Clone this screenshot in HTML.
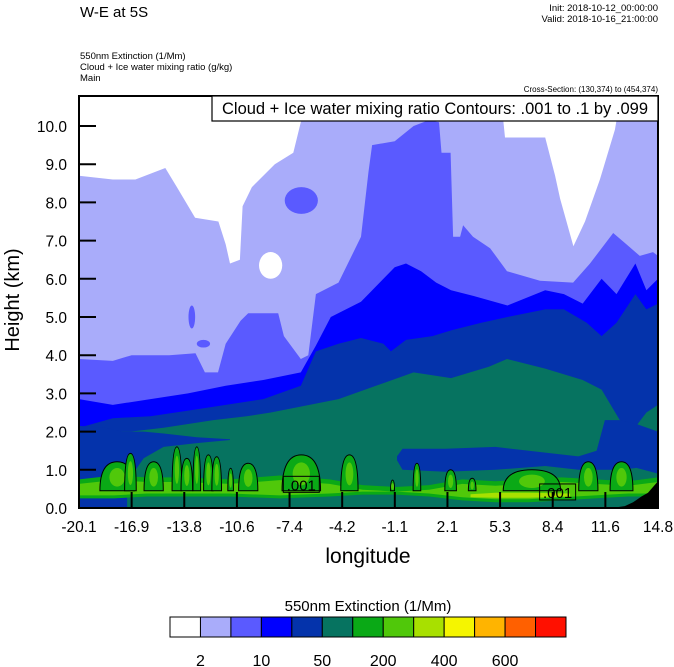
<!DOCTYPE html>
<html><head><meta charset="utf-8"><title>W-E at 5S</title>
<style>
body{margin:0;background:#fff;}
svg{display:block;font-family:"Liberation Sans",Arial,sans-serif;}
</style></head>
<body>
<svg id="chart" width="674" height="667" viewBox="0 0 674 667" xmlns="http://www.w3.org/2000/svg">
<text x="80" y="17" font-size="15">W-E at 5S</text>
<text x="658" y="11" font-size="9.5" text-anchor="end">Init: 2018-10-12_00:00:00</text>
<text x="658" y="22" font-size="9.5" text-anchor="end">Valid: 2018-10-16_21:00:00</text>
<text x="80" y="59" font-size="9.5">550nm Extinction   (1/Mm)</text>
<text x="80" y="70" font-size="9.5">Cloud + Ice water mixing ratio   (g/kg)</text>
<text x="80" y="81" font-size="9.5">Main</text>
<text x="658" y="92" font-size="8" text-anchor="end">Cross-Section: (130,374) to (454,374)</text>
<defs><clipPath id="pc"><rect x="79" y="96" width="579" height="412"/></clipPath></defs>
<g id="plot" clip-path="url(#pc)"></g>
<g id="axes"></g>
<rect x="212" y="96" width="446" height="25" fill="#fff" stroke="#000" stroke-width="1.2"/>
<text x="435" y="114" font-size="16.5" text-anchor="middle">Cloud + Ice water mixing ratio Contours: .001 to .1 by .099</text>
<text x="368" y="563" font-size="21" text-anchor="middle">longitude</text>
<text transform="translate(19,300) rotate(-90)" font-size="20" text-anchor="middle">Height (km)</text>
<text x="368" y="611" font-size="15" text-anchor="middle">550nm Extinction  (1/Mm)</text>
<g id="cbar"></g>
</svg>
<script>
// ---- data ----
const xTickLabels = ["-20.1","-16.9","-13.8","-10.6","-7.4","-4.2","-1.1","2.1","5.3","8.4","11.6","14.8"];
const yTicks = [0,1,2,3,4,5,6,7,8,9,10];
const levelColors = ["#ffffff","#a9acfa","#5a5aff","#0000ff","#0433ab","#067360","#0aa916","#50c80a","#a8e000","#f5f500","#ffb400","#ff6000","#ff1000"];
const cbarLabels = ["2","10","50","200","400","600"];
// top boundaries (lon, km) of each filled level
const l1Lon = [-20.1,-18.06,-16.7,-14.9,-14.2,-13.1,-11.7,-11.26,-11.0,-10.4,-10.24,-9.68,-8.3,-7.18,-6.73,-5.8,5.3,5.58,8.0,8.6,8.9,9.7,10.4,11.3,12.2,12.6,14.8];
const l1Km  = [8.7,8.6,8.6,8.9,8.4,7.6,7.5,6.9,6.4,6.5,7.9,8.4,9.0,9.3,10.1,10.9,10.9,9.7,9.7,8.7,8.1,6.85,7.5,8.6,9.9,10.9,10.9];
const l2Lon = [-20.1,-18.06,-16.93,-14.66,-13.08,-12.51,-11.72,-11.26,-10.36,-9.9,-8.09,-7.75,-6.73,-6.28,-5.82,-4.46,-3.1,-2.65,-2.43,-1.07,0.07,0.97,1.6,1.75,2.3,2.45,2.87,3.05,3.65,4.68,5.7,7.69,9.68,10.7,12.1,12.9,13.7,14.5,14.8];
const l2Km  = [3.9,3.85,4.0,4.0,4.05,3.55,3.55,4.3,4.9,5.1,5.1,4.5,3.9,4.0,5.6,5.9,7.1,8.8,9.5,9.6,10.0,10.15,10.1,9.3,9.3,7.1,7.1,7.4,7.1,6.8,6.2,5.95,5.9,6.4,7.2,6.9,6.6,6.7,6.6];
const l3Lon = [-20.1,-18.06,-15.79,-13.53,-11.26,-8.99,-6.73,-5.82,-4.92,-3.1,-1.07,-0.39,0.52,1.43,2.33,3.69,5.73,8.0,9.13,10.26,11.4,12.3,13.44,14.1,14.8];
const l3Km  = [2.85,2.7,2.85,3.0,3.2,3.35,3.55,4.25,5.0,5.4,6.3,6.4,6.2,5.9,5.7,5.55,5.3,5.7,5.6,5.35,6.0,5.6,6.4,5.7,6.0];
const l4Lon = [-20.1,-18.06,-15.79,-13.53,-11.26,-8.99,-6.73,-5.82,-4.46,-3.1,-1.75,-1.3,-0.39,1.2,2.33,4.15,5.73,8.0,9.13,10.5,11.4,12.3,13.44,14.1,14.8];
const l4Km  = [2.1,2.35,2.4,2.55,2.7,2.85,3.2,4.1,4.3,4.45,4.3,4.1,4.4,4.5,4.65,4.85,5.0,5.2,5.2,4.85,4.5,4.85,5.6,5.2,5.35];
const l5Lon = [-20.1,-17,-15,-12,-10,-8.54,-4.46,-2.2,0.07,2.33,4.6,5.7,8.0,10.26,11.4,12.5,13.4,14.1,14.8];
const l5Km  = [2.0,2.0,2.1,2.3,2.4,2.5,2.85,3.2,3.55,3.4,3.7,3.9,3.65,3.35,3.1,2.3,2.1,2.5,2.7];
// low-level pockets and bands (lon, bottom km, top km)
const pocketLLon = [-20.1,-18.5,-17.5,-16.2,-15,-13,-11];
const pocketLBot = [0.3,0.3,0.5,1.3,1.6,1.7,1.78];
const pocketLTop = [2.15,2.1,2.0,2.0,1.95,1.85,1.8];
const pocketBLon = [-20.1,-18.5,-17.2];
const pocketBBot = [0.0,0.0,0.0];
const pocketBTop = [0.3,0.3,0.3];
const pocketRLon = [-0.93,-0.6,2,5,8,10,11.1,11.6,12.5,13.5,14.8];
const pocketRBot = [1.25,1.0,0.95,1.0,1.1,1.0,1.0,1.0,1.0,1.05,0.9];
const pocketRTop = [1.35,1.55,1.55,1.6,1.45,1.35,1.5,2.3,2.3,2.2,2.0];
const greenLon = [-20.1,-18,-16,-14,-11,-8,-5,-3,-1,1,3,5,7,9,11,13,14.8];
const greenBot = [0.25,0.25,0.3,0.3,0.3,0.25,0.3,0.35,0.35,0.3,0.2,0.15,0.15,0.2,0.25,0.3,0.3];
const greenTop = [0.75,0.85,0.8,0.8,0.75,0.85,0.75,0.6,0.55,0.6,0.75,0.7,0.75,0.8,0.75,0.7,0.8];
const yellowLon = [3.5,5,7,9.5];
const yellowBot = [0.28,0.27,0.27,0.3];
const yellowTop = [0.36,0.4,0.4,0.38];
const terrainLon = [12.0,12.8,13.3,13.8,14.2,14.5,14.8];
const terrainKm = [0,0.05,0.15,0.3,0.4,0.55,0.7];
// convective cells: centre lon, top km, half width (lon)
const cellLon = [-17.8,-17.0,-15.6,-14.2,-13.6,-13.0,-12.3,-11.8,-10.96,-9.9,-6.7,-3.8,-1.2,0.27,2.3,3.6,7.2,10.6,12.6];
const cellTop = [1.21,1.43,1.21,1.6,1.3,1.6,1.39,1.34,1.04,1.17,1.39,1.39,0.73,1.17,1.0,0.78,1.0,1.21,1.21];
const cellHalf = [1.04,0.35,0.58,0.29,0.35,0.23,0.29,0.29,0.17,0.58,1.16,0.52,0.12,0.23,0.35,0.23,1.73,0.58,0.69];
const cellBase = 0.45;
// blobs: lon, km, radius lon, radius km, level index
const blobLon = [-6.7,-8.55,-13.3,-12.6];
const blobKm = [8.05,6.35,5.0,4.3];
const blobRLon = [1.0,0.7,0.2,0.4];
const blobRKm = [0.35,0.35,0.3,0.1];
const blobLevel = [2,0,2,2];
// contour labels: lon, km
const labelLon = [-6.7,8.75];
const labelKm = [0.62,0.42];

// ---- scales ----
const X0=79,X1=658,YB=508,PXKM=38.2,LON0=-20.1,LON1=14.8;
const sx = lon => X0 + (lon-LON0)/(LON1-LON0)*(X1-X0);
const sy = km => YB - km*PXKM;
const NS="http://www.w3.org/2000/svg";
const plot=document.getElementById('plot');
const axes=document.getElementById('axes');
function mk(tag,attrs,parent){const e=document.createElementNS(NS,tag);for(const k in attrs)e.setAttribute(k,attrs[k]);parent.appendChild(e);return e;}

const bg=mk('rect',{x:X0,y:96,width:X1-X0,height:412,fill:levelColors[0]},plot);



function below(lons,kms,color,name){
  let d='M'+sx(lons[0])+','+YB;
  for(let i=0;i<lons.length;i++) d+=' L'+sx(lons[i]).toFixed(1)+','+sy(kms[i]).toFixed(1);
  d+=' L'+sx(lons[lons.length-1])+','+YB+' Z';
  const p=mk('path',{d:d,fill:color},plot);
  
  
}
function band(lons,bots,tops,color,name){
  let d='';
  for(let i=0;i<lons.length;i++) d+=(i?' L':'M')+sx(lons[i]).toFixed(1)+','+sy(tops[i]).toFixed(1);
  for(let i=lons.length-1;i>=0;i--) d+=' L'+sx(lons[i]).toFixed(1)+','+sy(bots[i]).toFixed(1);
  d+=' Z';
  const p=mk('path',{d:d,fill:color},plot);
  
  
}
below(l1Lon,l1Km,levelColors[1],'level-2-fill');
below(l2Lon,l2Km,levelColors[2],'level-10-fill');
below(l3Lon,l3Km,levelColors[3],'level-20-fill');
below(l4Lon,l4Km,levelColors[4],'level-50-fill');
below(l5Lon,l5Km,levelColors[5],'level-100-fill');
for(let i=0;i<blobLon.length;i++){
  const e=mk('ellipse',{cx:sx(blobLon[i]),cy:sy(blobKm[i]),rx:blobRLon[i]/(LON1-LON0)*(X1-X0),ry:blobRKm[i]*PXKM,fill:levelColors[blobLevel[i]]},plot);
  
  
}
band(pocketLLon,pocketLBot,pocketLTop,levelColors[4],'left-low-pocket');
band(pocketBLon,pocketBBot,pocketBTop,levelColors[4],'left-surface-pocket');
band(pocketRLon,pocketRBot,pocketRTop,levelColors[4],'right-low-pocket');
band(greenLon,greenBot,greenTop,levelColors[6],'boundary-layer-green');
band(greenLon,greenBot.map(v=>v+0.08),greenTop.map(v=>v-0.12),levelColors[7],'boundary-layer-lightgreen');
band(yellowLon,yellowBot,yellowTop,levelColors[8],'boundary-layer-yellowgreen');

for(let i=0;i<cellLon.length;i++){
  const l=sx(cellLon[i]-cellHalf[i]), r=sx(cellLon[i]+cellHalf[i]), c=sx(cellLon[i]);
  const t=sy(cellTop[i]), b=sy(cellBase);
  const d='M'+l+','+b+' Q'+l+','+t+' '+c+','+t+' Q'+r+','+t+' '+r+','+b+' Z';
  const p=mk('path',{d:d,fill:levelColors[6],stroke:'#000','stroke-width':1},plot);
  
  
  const w=(r-l)*0.45;
  const inner=mk('ellipse',{cx:c,cy:(t+b)/2+1,rx:Math.max(1.5,w/2),ry:(b-t)*0.32,fill:levelColors[7]},plot);
  
  
}
{
  let d='M'+sx(terrainLon[0])+','+YB;
  for(let i=0;i<terrainLon.length;i++) d+=' L'+sx(terrainLon[i]).toFixed(1)+','+sy(terrainKm[i]).toFixed(1);
  d+=' L'+X1+','+YB+' Z';
  const p=mk('path',{d:d,fill:'#000'},plot);
  
  
}
for(let i=0;i<labelLon.length;i++){
  const cx=sx(labelLon[i]), cy=sy(labelKm[i]);
  const r=mk('rect',{x:cx-18,y:cy-8,width:36,height:16,fill:'none',stroke:'#000','stroke-width':1},plot);
  
  
  const t=mk('text',{x:cx,y:cy+6,'font-size':15,'text-anchor':'middle'},plot);
  t.textContent='.001';
  
  
}
// axes
const frame=mk('rect',{x:X0,y:96,width:X1-X0,height:412,fill:'none',stroke:'#000','stroke-width':2},axes);


for(let i=0;i<xTickLabels.length;i++){
  const x=X0+i*(X1-X0)/(xTickLabels.length-1);
  const tk=mk('line',{x1:x,y1:YB,x2:x,y2:YB-16,stroke:'#000','stroke-width':2},axes);
  
  
  const t=mk('text',{x:x,y:532,'font-size':15.5,'text-anchor':'middle'},axes);
  t.textContent=xTickLabels[i];
  
  
}
for(const v of yTicks){
  const y=sy(v);
  const tk=mk('line',{x1:X0,y1:y,x2:X0+17,y2:y,stroke:'#000','stroke-width':2},axes);
  
  
  const t=mk('text',{x:67,y:y+6,'font-size':15.5,'text-anchor':'end'},axes);
  t.textContent=v.toFixed(1);
  
  
}
// colorbar
const cb=document.getElementById('cbar');
const CB0=170,CBW=(566-170)/levelColors.length;
for(let i=0;i<levelColors.length;i++){
  const r=mk('rect',{x:CB0+i*CBW,y:617,width:CBW,height:20,fill:levelColors[i],stroke:'#000','stroke-width':1},cb);
  
  
}
for(let i=0;i<cbarLabels.length;i++){
  const t=mk('text',{x:CB0+(1+2*i)*CBW,y:666,'font-size':16,'text-anchor':'middle'},cb);
  t.textContent=cbarLabels[i];
  
  
}
</script>
</body></html>
